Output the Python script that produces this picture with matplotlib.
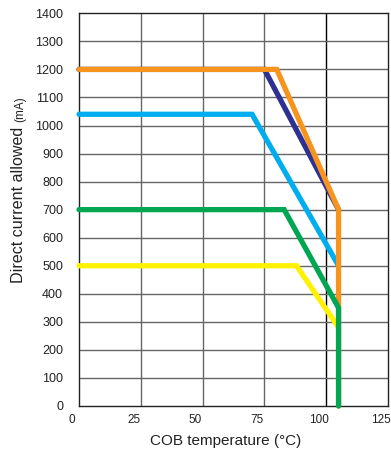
import matplotlib
matplotlib.use("Agg")
import matplotlib.pyplot as plt
import matplotlib.transforms as mtransforms

plt.rcParams.update({"font.family": ["Liberation Sans", "DejaVu Sans"]})

# derating curves, COB temperature (°C) vs allowed current (mA)
navy_t = [0, 75, 105]
navy_i = [1200, 1200, 700]
blue_t = [0, 70, 105]
blue_i = [1040, 1040, 500]
yellow_t = [0, 88, 105]
yellow_i = [500, 500, 280]
orange_t = [0, 80, 105, 105]
orange_i = [1200, 1200, 700, 0]
green_t = [0, 83, 105, 105]
green_i = [700, 700, 350, 0]

x_ticks = [0, 25, 50, 75, 100, 125]
y_ticks = list(range(0, 1401, 100))

fig = plt.figure(figsize=(3.91, 4.53), dpi=100)
ax = fig.add_axes([79 / 391, 47 / 453, 309 / 391, 392.7 / 453])

ax.set_xlim(0, 125)
ax.set_ylim(0, 1400)
ax.set_xticks(x_ticks)
ax.set_yticks(y_ticks)
ax.tick_params(length=0, labelsize=9, labelcolor="#222222")
ax.tick_params(axis="y", pad=11.5)
ax.tick_params(axis="x", pad=6, labelsize=8.5)

# x labels sit a little left of their gridlines
shift = mtransforms.ScaledTranslation(-7 / 100, 0, fig.dpi_scale_trans)
for lab in ax.get_xticklabels():
    lab.set_transform(lab.get_transform() + shift)

for x in x_ticks[1:-1]:
    ax.axvline(x, color="black" if x == 100 else "#666666", lw=1.0, zorder=1)
for y in y_ticks[1:-1]:
    ax.axhline(y, color="#666666", lw=1.0, zorder=1)
for s in ax.spines.values():
    s.set_color("#222222")
    s.set_linewidth(1.0)

lw = 3.8
kw = dict(lw=lw, solid_capstyle="round", solid_joinstyle="miter", clip_on=False, zorder=3)
ax.plot(navy_t, navy_i, color="#2e3192", **kw)
ax.plot(blue_t, blue_i, color="#00aeef", **kw)
ax.plot(yellow_t, yellow_i, color="#fff200", **kw)
ax.plot(orange_t, orange_i, color="#f7941d", **kw)
ax.plot(green_t, green_i, color="#00a651", **kw)

fig.text(225.5 / 391, 1 - 441 / 453, "COB temperature (°C)", fontsize=11,
         ha="center", va="center", color="#222222")

# y label with smaller unit
t1 = fig.text(23 / 391, 1 - 283 / 453, "Direct current allowed ", fontsize=11.6,
              rotation=90, rotation_mode="anchor", ha="left", va="baseline",
              color="#222222")
fig.canvas.draw()
bb = t1.get_window_extent(fig.canvas.get_renderer())
fig.text(23 / 391, bb.y1 / fig.bbox.height, "(mA)", fontsize=8.5,
         rotation=90, rotation_mode="anchor", ha="left", va="baseline",
         color="#222222")

fig.savefig("out.png", dpi=100)
